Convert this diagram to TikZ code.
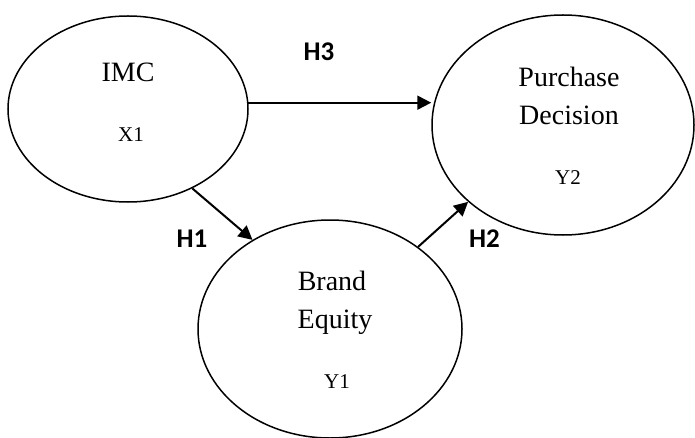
\documentclass[tikz,border=0pt]{standalone}
\usepackage{fontspec}
\setmainfont{Liberation Serif}
\newfontfamily\labfont{Carlito}
\usetikzlibrary{shapes.geometric,arrows.meta}
\begin{document}
\begin{tikzpicture}[x=1pt,y=1pt,
  construct/.style={draw,ellipse,line width=1.5pt,inner sep=0pt},
  bigtxt/.style={anchor=base,inner sep=0pt,font=\fontsize{28}{30}\selectfont},
  smalltxt/.style={anchor=base,inner sep=0pt,font=\fontsize{21}{24}\selectfont},
  hyp/.style={inner sep=0pt,font=\labfont\bfseries\fontsize{27}{30}\selectfont},
  link/.style={line width=2pt,-{Triangle[length=14pt,width=14pt]}}]
\useasboundingbox (0,0) rectangle (695,437);
\node[construct,minimum width=240pt,minimum height=186pt] (imc) at (128,328) {};
\node[construct,minimum width=262pt,minimum height=220pt] (pd) at (563,312) {};
\node[construct,minimum width=264pt,minimum height=218pt] (be) at (330,108) {};
\node[bigtxt] (imct) at (128,355) {IMC};
\node[smalltxt] (x1) at (131,295) {X1};
\node[bigtxt] (pdt1) at (569,350) {Purchase};
\node[bigtxt] (pdt2) at (569,312) {Decision};
\node[smalltxt] (y2) at (568,253) {Y2};
\node[bigtxt] (bet1) at (332,147) {Brand};
\node[bigtxt] (bet2) at (335,109) {Equity};
\node[smalltxt] (y1) at (337,49) {Y1};
\node[hyp] (h3) at (319,385) {H3};
\node[hyp] (h1) at (192,198) {H1};
\node[hyp] (h2) at (484.5,198) {H2};
\draw[link] (imc.3) -- (imc.3 -| pd.west);
\draw[link] (imc.-51) -- (be.131);
\draw[link] (be.43) -- (pd.219);
\end{tikzpicture}
\end{document}
